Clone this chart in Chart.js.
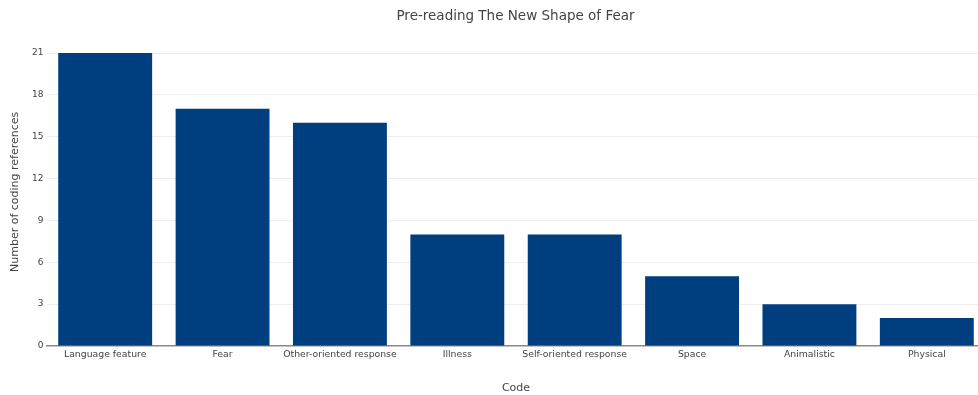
<!DOCTYPE html>
<html>
<head>
<meta charset="utf-8">
<script src="https://cdn.jsdelivr.net/npm/chart.js@4"></script>
<style>
  html, body { margin: 0; padding: 0; background: #fff; overflow: hidden; }
  #wrap { width: 1031px; height: 395px; }
</style>
</head>
<body>
<div id="wrap"><canvas id="myChart" width="1031" height="395"></canvas></div>
<script>
// data
const codes = ['Language feature', 'Fear', 'Other-oriented response', 'Illness',
  'Self-oriented response', 'Space', 'Animalistic', 'Physical'];
const references = [21, 17, 16, 8, 8, 5, 3, 2];
const yTicks = [0, 3, 6, 9, 12, 15, 18, 21];

const textColor = '#444';
const fontFamily = '"DejaVu Sans", Verdana, sans-serif';

const ctx = document.getElementById('myChart').getContext('2d');
const myChart = new Chart(ctx, {
  type: 'bar',
  data: {
    labels: codes,
    datasets: [{
      label: 'Number of coding references',
      data: references,
      backgroundColor: '#003f7f',
      borderWidth: 0,
      barPercentage: 0.8,
      categoryPercentage: 1
    }]
  },
  options: {
    responsive: false,
    animation: false,
    layout: { padding: 0 },
    plugins: {
      legend: { display: false },
      tooltip: { enabled: false },
      title: {
        display: true,
        text: 'Pre-reading The New Shape of Fear',
        color: textColor,
        font: { family: fontFamily, size: 13.5, weight: 'normal' },
        padding: { top: 7.9, bottom: 13.6 }
      }
    },
    scales: {
      x: {
        grid: { display: false, drawTicks: false },
        border: { display: true, color: '#888', width: 1.5 },
        ticks: {
          color: textColor,
          font: { family: fontFamily, size: 9.3 },
          padding: 3,
          maxRotation: 0,
          autoSkip: false
        },
        title: {
          display: true,
          text: 'Code',
          color: textColor,
          font: { family: fontFamily, size: 11 },
          padding: { top: 4, bottom: 0 }
        },
        afterFit: (scale) => { scale.height = 49; }
      },
      y: {
        min: 0,
        max: 22.1,
        afterBuildTicks: (scale) => {
          scale.ticks = yTicks.map(v => ({ value: v }));
        },
        grid: {
          color: (c) => (c.tick && c.tick.value === 0) ? 'rgba(0,0,0,0)' : '#eee',
          drawTicks: false
        },
        border: { display: false },
        ticks: {
          color: textColor,
          font: { family: fontFamily, size: 9 },
          padding: 3
        },
        title: {
          display: true,
          text: 'Number of coding references',
          color: textColor,
          font: { family: fontFamily, size: 11 },
          padding: { top: 8.5, bottom: 0 }
        },
        afterFit: (scale) => { scale.width = 46.5; }
      },
      // empty right margin: the figure is wider than the window
      yRight: {
        position: 'right',
        display: true,
        grid: { display: false, drawTicks: false },
        border: { display: false },
        ticks: { display: false },
        afterFit: (scale) => { scale.width = 45.5; }
      }
    }
  }
});
</script>
</body>
</html>
